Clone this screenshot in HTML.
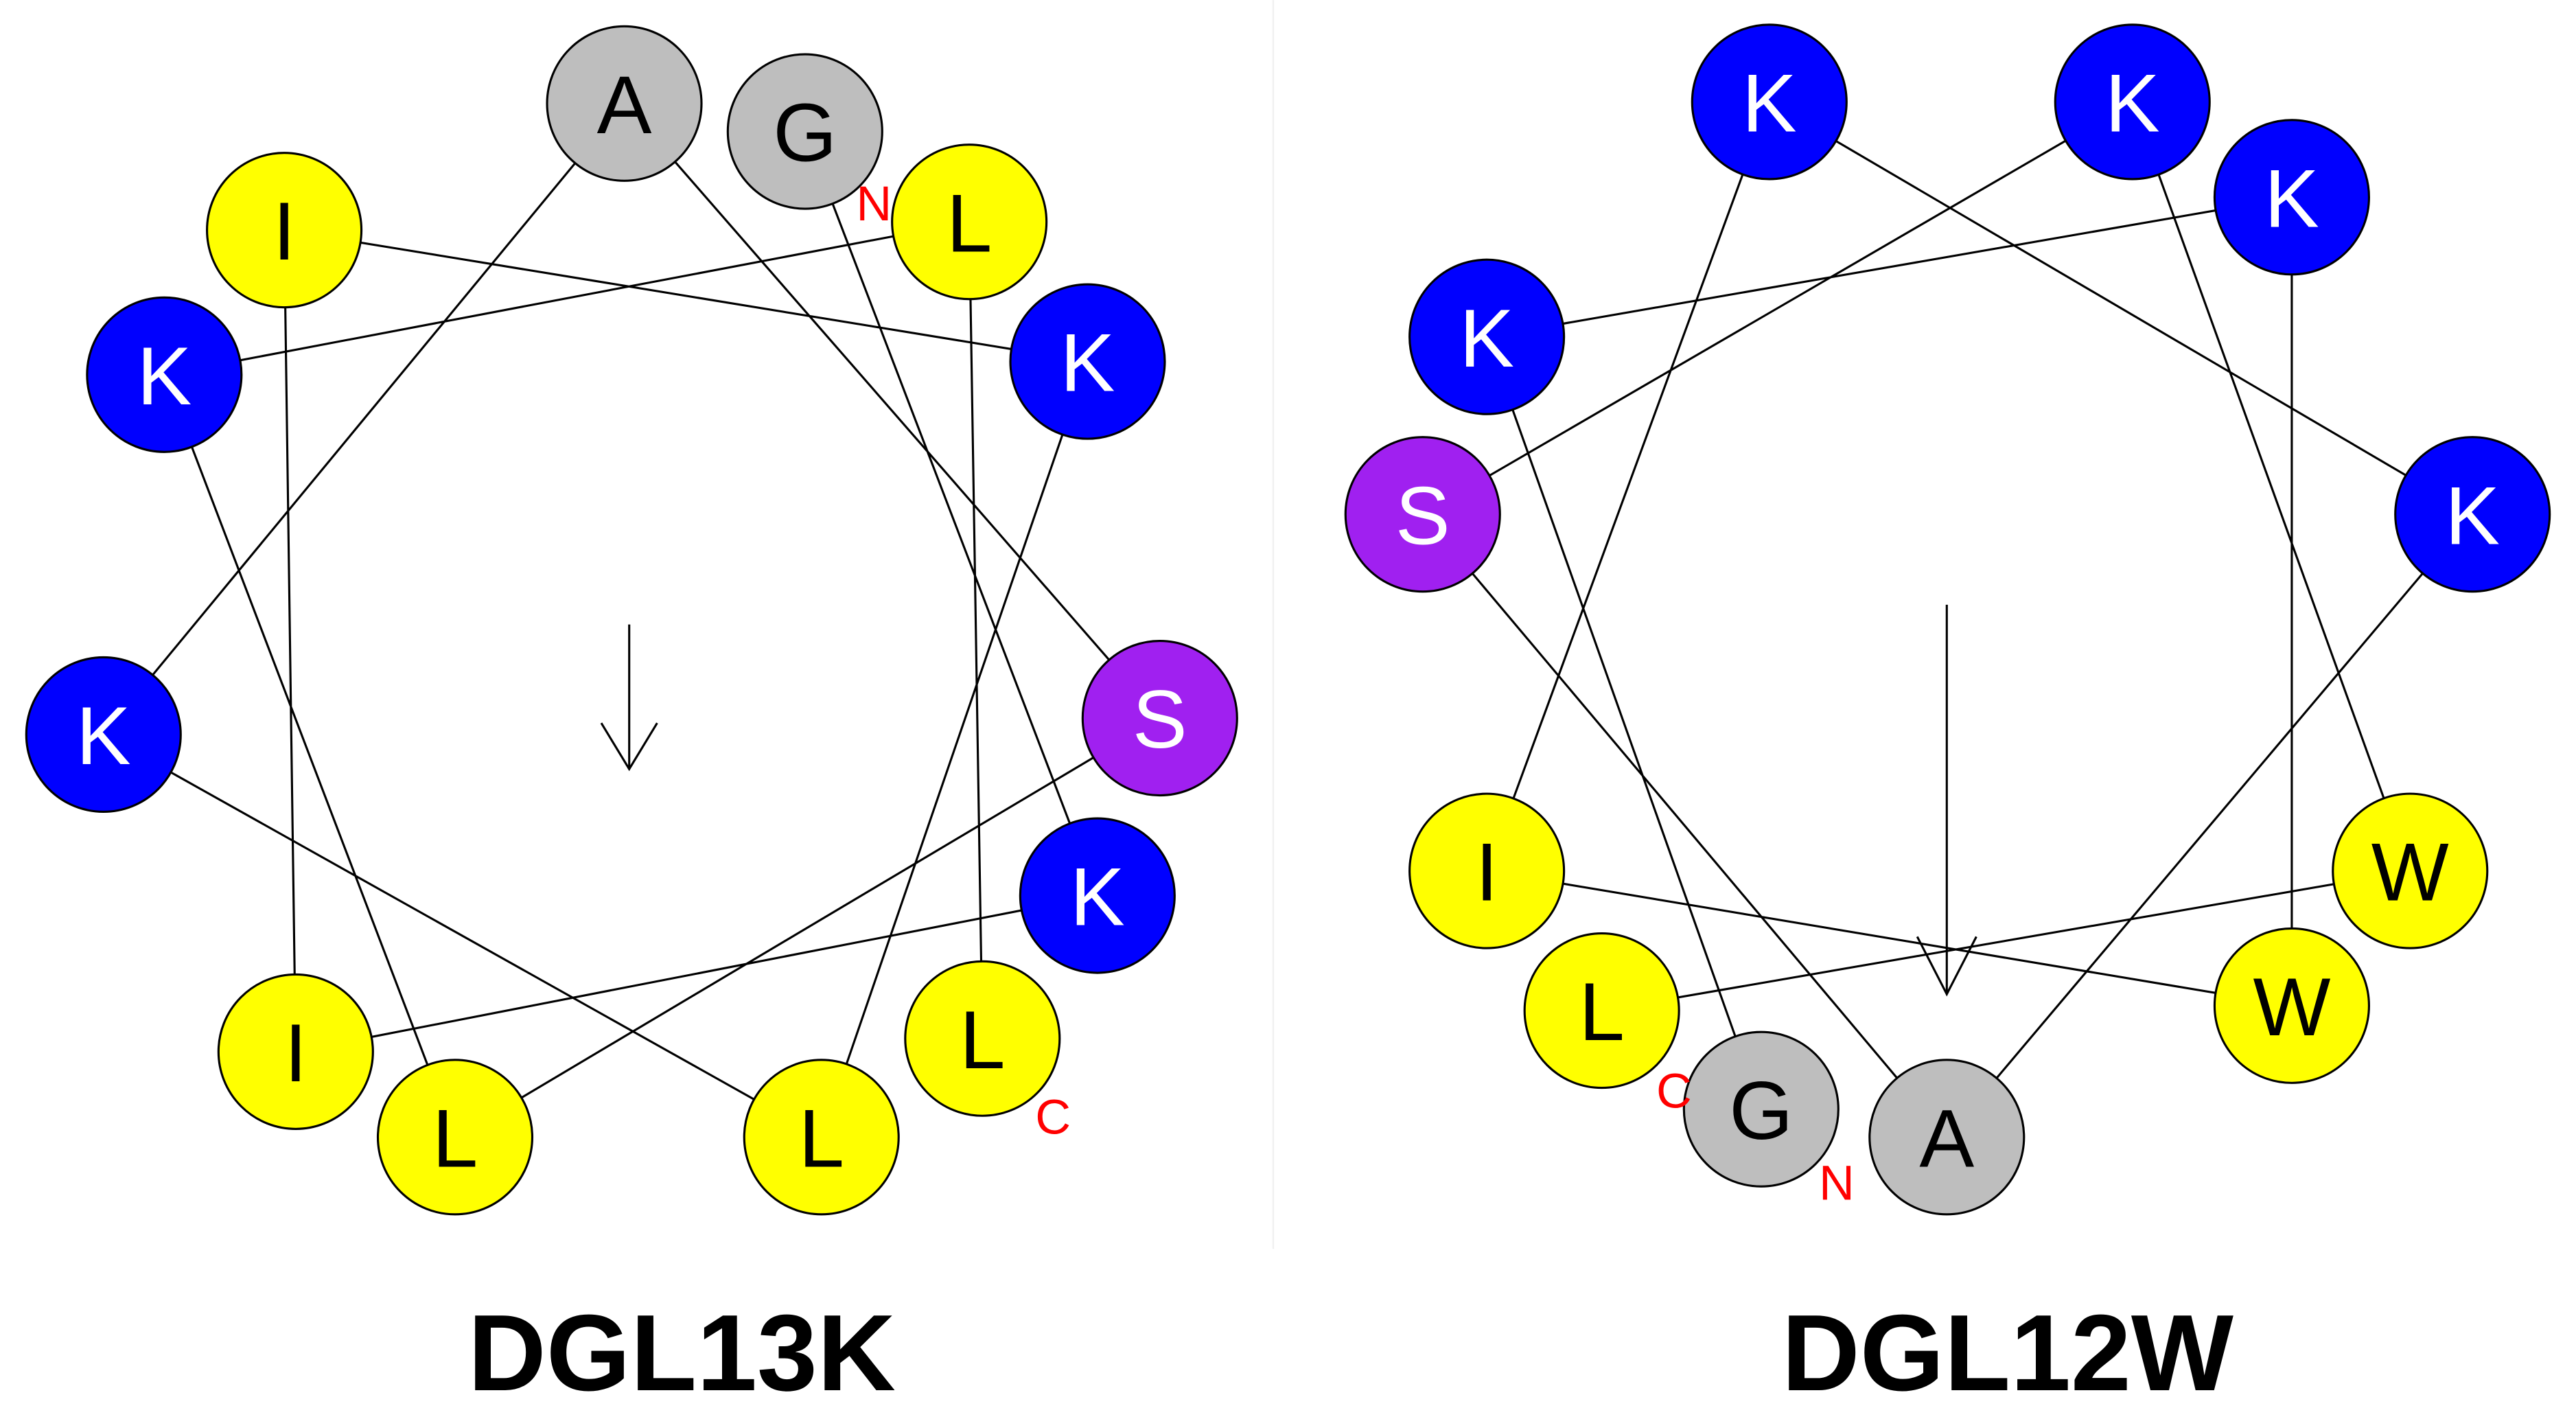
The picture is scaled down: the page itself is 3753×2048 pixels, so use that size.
<!DOCTYPE html>
<html><head><meta charset="utf-8"><style>
html,body{margin:0;padding:0;background:#fff;}
svg{display:block;}
text{font-family:"Liberation Sans",sans-serif;}
</style></head><body>
<svg width="3753" height="2048" viewBox="0 0 1568 855.6" xmlns="http://www.w3.org/2000/svg">
<rect width="1568" height="856" fill="#fff"/>
<line x1="775" y1="0" x2="775" y2="760" stroke="#f0f0f0" stroke-width="1"/>
<g stroke="#000" stroke-width="1.3" fill="none">
<!-- left chain: G-K668-I180-I173-K662-L500-K63-A-S-L277-K100-L590-L598 -->
<polyline points="490,80 668,545 180,640 173,140 662,220 500,692 63,447 380,63 706,437 277,692 100,228 590,135 598,632"/>
<!-- right chain: L-W1467-K1298-S-A-K1505-K1077-I-W1395-K1395-K905-G -->
<polyline points="975,615 1467,530 1298,62 866,313 1185,692 1505,313 1077,62 905,530 1395,612 1395,120 905,205 1072,675"/>
<!-- arrows -->
<line x1="383" y1="380" x2="383" y2="468"/>
<polyline points="366,440 383,468 400,440"/>
<line x1="1185" y1="368" x2="1185" y2="605"/>
<polyline points="1167,570 1185,605 1203,570"/>
</g>
<g stroke="#000" stroke-width="1.3">
<circle cx="380" cy="63" r="47" fill="#bebebe"/>
<circle cx="490" cy="80" r="47" fill="#bebebe"/>
<circle cx="590" cy="135" r="47" fill="#ffff00"/>
<circle cx="173" cy="140" r="47" fill="#ffff00"/>
<circle cx="662" cy="220" r="47" fill="#0000ff"/>
<circle cx="100" cy="228" r="47" fill="#0000ff"/>
<circle cx="706" cy="437" r="47" fill="#a020f0"/>
<circle cx="63" cy="447" r="47" fill="#0000ff"/>
<circle cx="668" cy="545" r="47" fill="#0000ff"/>
<circle cx="598" cy="632" r="47" fill="#ffff00"/>
<circle cx="180" cy="640" r="47" fill="#ffff00"/>
<circle cx="277" cy="692" r="47" fill="#ffff00"/>
<circle cx="500" cy="692" r="47" fill="#ffff00"/>

<circle cx="1077" cy="62" r="47" fill="#0000ff"/>
<circle cx="1298" cy="62" r="47" fill="#0000ff"/>
<circle cx="1395" cy="120" r="47" fill="#0000ff"/>
<circle cx="905" cy="205" r="47" fill="#0000ff"/>
<circle cx="866" cy="313" r="47" fill="#a020f0"/>
<circle cx="1505" cy="313" r="47" fill="#0000ff"/>
<circle cx="905" cy="530" r="47" fill="#ffff00"/>
<circle cx="1467" cy="530" r="47" fill="#ffff00"/>
<circle cx="1395" cy="612" r="47" fill="#ffff00"/>
<circle cx="975" cy="615" r="47" fill="#ffff00"/>
<circle cx="1072" cy="675" r="47" fill="#bebebe"/>
<circle cx="1185" cy="692" r="47" fill="#bebebe"/>
</g>
<g font-size="50" text-anchor="middle">
<text x="380" y="81">A</text>
<text x="490" y="98">G</text>
<text x="590" y="153">L</text>
<text x="173" y="158">I</text>
<text x="662" y="238" fill="#fff">K</text>
<text x="100" y="246" fill="#fff">K</text>
<text x="706" y="455" fill="#fff">S</text>
<text x="63" y="465" fill="#fff">K</text>
<text x="668" y="563" fill="#fff">K</text>
<text x="598" y="650">L</text>
<text x="180" y="658">I</text>
<text x="277" y="710">L</text>
<text x="500" y="710">L</text>

<text x="1077" y="80" fill="#fff">K</text>
<text x="1298" y="80" fill="#fff">K</text>
<text x="1395" y="138" fill="#fff">K</text>
<text x="905" y="223" fill="#fff">K</text>
<text x="866" y="331" fill="#fff">S</text>
<text x="1505" y="331" fill="#fff">K</text>
<text x="905" y="548">I</text>
<text x="1467" y="548">W</text>
<text x="1395" y="630">W</text>
<text x="975" y="633">L</text>
<text x="1072" y="693">G</text>
<text x="1185" y="710">A</text>
</g>
<g font-size="30" fill="#ff0000" text-anchor="middle">
<text x="532" y="134">N</text>
<text x="641" y="690">C</text>
<text x="1118" y="730">N</text>
<text x="1019" y="674">C</text>
</g>
<g font-size="66" font-weight="bold" text-anchor="middle">
<text x="415" y="846">DGL13K</text>
<text x="1222" y="846">DGL12W</text>
</g>
</svg>
</body></html>
